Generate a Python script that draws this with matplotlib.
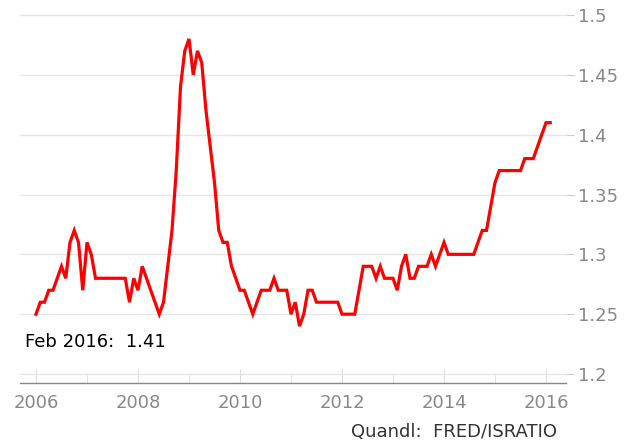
from matplotlib import pyplot as plt
from matplotlib.ticker import MultipleLocator
import numpy as np

# monthly ratio, Jan 2006 .. Feb 2016
ratio_2006 = [1.25, 1.26, 1.26, 1.27, 1.27, 1.28, 1.29, 1.28, 1.31, 1.32, 1.31, 1.27]
ratio_2007 = [1.31, 1.30, 1.28, 1.28, 1.28, 1.28, 1.28, 1.28, 1.28, 1.28, 1.26, 1.28]
ratio_2008 = [1.27, 1.29, 1.28, 1.27, 1.26, 1.25, 1.26, 1.29, 1.32, 1.37, 1.44, 1.47]
ratio_2009 = [1.48, 1.45, 1.47, 1.46, 1.42, 1.39, 1.36, 1.32, 1.31, 1.31, 1.29, 1.28]
ratio_2010 = [1.27, 1.27, 1.26, 1.25, 1.26, 1.27, 1.27, 1.27, 1.28, 1.27, 1.27, 1.27]
ratio_2011 = [1.25, 1.26, 1.24, 1.25, 1.27, 1.27, 1.26, 1.26, 1.26, 1.26, 1.26, 1.26]
ratio_2012 = [1.25, 1.25, 1.25, 1.25, 1.27, 1.29, 1.29, 1.29, 1.28, 1.29, 1.28, 1.28]
ratio_2013 = [1.28, 1.27, 1.29, 1.30, 1.28, 1.28, 1.29, 1.29, 1.29, 1.30, 1.29, 1.30]
ratio_2014 = [1.31, 1.30, 1.30, 1.30, 1.30, 1.30, 1.30, 1.30, 1.31, 1.32, 1.32, 1.34]
ratio_2015 = [1.36, 1.37, 1.37, 1.37, 1.37, 1.37, 1.37, 1.38, 1.38, 1.38, 1.39, 1.40]
ratio_2016 = [1.41, 1.41]

ratio = (ratio_2006 + ratio_2007 + ratio_2008 + ratio_2009 + ratio_2010 + ratio_2011
         + ratio_2012 + ratio_2013 + ratio_2014 + ratio_2015 + ratio_2016)
years = 2006 + np.arange(len(ratio)) / 12

y_ticks = [1.2, 1.25, 1.3, 1.35, 1.4, 1.45, 1.5]
x_ticks = [2006, 2008, 2010, 2012, 2014, 2016]


def main():
    fig = plt.figure(figsize=(6.34, 4.45), dpi=100)
    ax = fig.add_axes([20 / 634, 1 - 383 / 445, 546 / 634, (383 - 12.6) / 445])

    ax.plot(years, ratio, color='#ff0000', linewidth=2.3, solid_joinstyle='miter')

    ax.set_xlim(2006 - 16 / 51, 2016 + 20 / 51)
    ax.set_ylim(1.1925, 1.502)

    ax.set_yticks(y_ticks)
    ax.set_yticklabels([f'{t:g}' for t in y_ticks])
    ax.yaxis.tick_right()
    ax.tick_params(axis='y', direction='out', length=6, color='#cccccc',
                   labelcolor='#888888', labelsize=13, pad=3)
    ax.grid(axis='y', color='#e6e6e6', linewidth=1)

    ax.set_xticks(x_ticks)
    ax.xaxis.set_minor_locator(MultipleLocator(1))
    ax.tick_params(axis='x', which='major', direction='in', length=10, color='#dddddd',
                   labelcolor='#888888', labelsize=13, pad=8)
    ax.tick_params(axis='x', which='minor', direction='in', length=7, color='#dddddd')

    for side in ['top', 'left', 'right']:
        ax.spines[side].set_visible(False)
    ax.spines['bottom'].set_color('#888888')
    ax.spines['bottom'].set_linewidth(1)

    fig.text(25 / 634, 1 - 342 / 445, 'Feb 2016:  1.41', fontsize=13, color='black', va='center')
    fig.text(557 / 634, 1 - 432 / 445, 'Quandl:  FRED/ISRATIO', fontsize=13, color='#333333',
             va='center', ha='right')

    fig.savefig('out.png', dpi=100)


if __name__ == '__main__':
    main()
